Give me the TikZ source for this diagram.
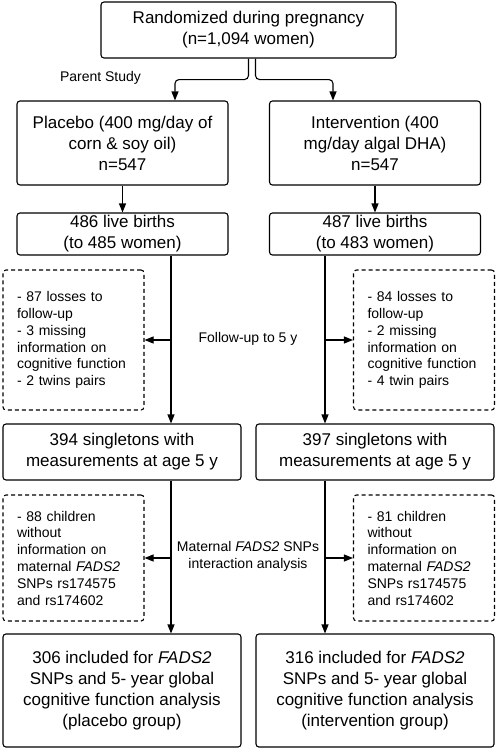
\documentclass[tikz,border=0pt]{standalone}
\usepackage{fontspec}
\setmainfont{Liberation Sans}
\usetikzlibrary{arrows.meta,positioning}
\begin{document}
\begin{tikzpicture}[x=1pt,y=-1pt,
  box/.style={draw,rounded corners=3pt,line width=1.1pt,align=center,inner sep=0pt,
    font=\fontsize{17}{21}\selectfont},
  lossbox/.style={draw,dash pattern=on 4pt off 3pt,rounded corners=3pt,line width=1.1pt,
    align=left,text width=113pt,inner xsep=14pt,inner ysep=0pt,
    font=\fontsize{14}{16.8}\selectfont},
  arr/.style={-{Triangle[length=9pt,width=7pt]},line width=1.1pt},
  lbl/.style={align=center,font=\fontsize{14}{17}\selectfont}]
\useasboundingbox (0,0) rectangle (498,750);
%Studie
\node[box,minimum width=295pt,minimum height=56pt] (top) at (248.5,30)
  {Randomized during pregnancy\\(n=1,094 women)};
\node[box,minimum width=211pt,minimum height=84pt] (plac) at (122.5,143)
  {Placebo (400 mg/day of\\corn \& soy oil)\\n=547};
\node[box,minimum width=211pt,minimum height=84pt] (intv) at (375,143)
  {Intervention (400\\mg/day algal DHA)\\n=547};
\node[box,minimum width=211pt,minimum height=42pt] (lbL) at (122.5,234)
  {486 live births\\(to 485 women)};
\node[box,minimum width=211pt,minimum height=42pt] (lbR) at (375,234)
  {487 live births\\(to 483 women)};
%Ausfaelle
\node[lossbox,minimum height=140pt] (lossL) at (73.5,340)
  {- 87 losses to\\follow-up\\- 3 missing\\information on\\cognitive function\\- 2 twins pairs};
\node[lossbox,minimum height=140pt] (lossR) at (424,340)
  {- 84 losses to\\follow-up\\- 2 missing\\information on\\cognitive function\\- 4 twin pairs};
\node[box,minimum width=238pt,minimum height=56pt] (sgL) at (122,452)
  {394 singletons with\\measurements at age 5 y};
\node[box,minimum width=238pt,minimum height=56pt] (sgR) at (375,452)
  {397 singletons with\\measurements at age 5 y};
\node[lossbox,minimum height=126pt] (snpL) at (73.5,558)
  {- 88 children\\without\\information on\\maternal \textit{FADS2}\\SNPs rs174575\\and rs174602};
\node[lossbox,minimum height=126pt] (snpR) at (424,558)
  {- 81 children\\without\\information on\\maternal \textit{FADS2}\\SNPs rs174575\\and rs174602};
\node[box,minimum width=238pt,minimum height=113pt] (inclL) at (122,690.5)
  {306 included for \textit{FADS2}\\SNPs and 5- year global\\cognitive function analysis\\(placebo group)};
\node[box,minimum width=238pt,minimum height=113pt] (inclR) at (375,690.5)
  {316 included for \textit{FADS2}\\SNPs and 5- year global\\cognitive function analysis\\(intervention group)};
%Beschriftungen
\node[lbl] (parent) at (100.5,78) {Parent Study};
\node[lbl] (follow) at (248,339) {Follow-up to 5 y};
\node[lbl] (inter) at (248,556) {Maternal \textit{FADS2} SNPs\\interaction analysis};
%Pfeile
\coordinate (inL) at (175,0);
\coordinate (inR) at (333,0);
\coordinate (spL) at (171,0);
\coordinate (spR) at (325,0);
\draw[arr,rounded corners=4pt] (top.south) -- ++(0,21) -| (plac.north -| inL);
\draw[arr,rounded corners=4pt] ([xshift=7pt]top.south) -- ++(0,21) -| (intv.north -| inR);
\draw[arr] (plac.south) -- (lbL.north);
\draw[arr] (intv.south) -- (lbR.north);
\draw[arr] (lbL.south -| spL) -- (sgL.north -| spL);
\draw[arr] (lbR.south -| spR) -- (sgR.north -| spR);
\draw[arr] (spL |- lossL.east) -- (lossL.east);
\draw[arr] (spR |- lossR.west) -- (lossR.west);
\draw[arr] (sgL.south -| spL) -- (inclL.north -| spL);
\draw[arr] (sgR.south -| spR) -- (inclR.north -| spR);
\draw[arr] (spL |- snpL.east) -- (snpL.east);
\draw[arr] (spR |- snpR.west) -- (snpR.west);
\end{tikzpicture}
\end{document}
